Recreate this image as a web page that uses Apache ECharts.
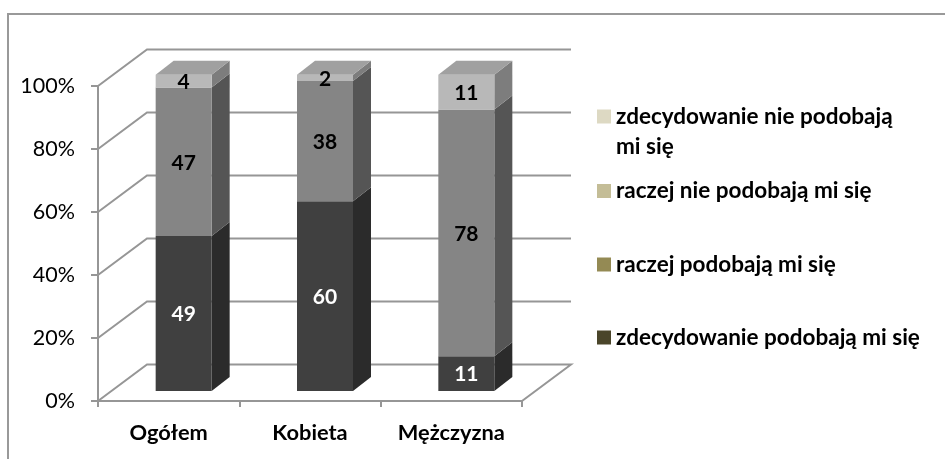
<!DOCTYPE html>
<html style="height: 100%">
<head>
<meta charset="utf-8">
<script src="https://cdn.jsdelivr.net/npm/echarts@6/dist/echarts.min.js"></script>
</head>
<body style="height: 100%; margin: 0; background: #fff">
<div id="container" style="width: 945px; height: 459px"></div>
<script>
// dane
var categories = ['Ogółem', 'Kobieta', 'Mężczyzna'];
var seriesNames = ['zdecydowanie podobają mi się', 'raczej podobają mi się', 'raczej nie podobają mi się', 'zdecydowanie nie podobają mi się'];
var strongYes = [49, 60, 11];
var ratherYes = [47, 38, 78];
var ratherNo = [4, 2, 11];
var strongNo = [0, 0, 0];
var yTicks = [0, 20, 40, 60, 80, 100];

// kolory
var legendColors = ['#4a452a', '#948a54', '#c4bd97', '#ddd9c3'];
var frontColors = ['#404040', '#858585', '#b8b8b8', '#dadada'];
var sideColors = ['#2b2b2b', '#555555', '#7d7d7d', '#909090'];
var labelColors = ['#ffffff', '#000000', '#000000', '#000000'];
var topColor = '#a0a0a0';
var gridColor = '#969696';
var FONT = 'Lato, "Noto Sans", sans-serif';

var depthX = 49, depthY = 36.5;      // glebokosc "sciany"
var barW = 56, barDX = 18, barDY = 14, barShift = 15, barLift = 10, barStretch = 0.012;

var values = [strongYes, ratherYes, ratherNo, strongNo];

function segmentData(s) {
	var res = [];
	for (var i = 0; i < categories.length; i++) {
		var base = 0;
		for (var k = 0; k < s; k++) base += values[k][i];
		res.push([i, base, base + values[s][i], values[s][i]]);
	}
	return res;
}

function renderSegment(s) {
	return function (params, api) {
		if (api.value(3) === 0) return null;
		var c = api.coord([api.value(0), api.value(1)]);
		var t = api.coord([api.value(0), api.value(2)]);
		var x0 = c[0] + barShift - barW / 2, x1 = x0 + barW;
		var yb = c[1] - barLift - api.value(1) * barStretch, yt = t[1] - barLift - api.value(2) * barStretch;
		var isTop = true;
		for (var k = s + 1; k < values.length; k++) {
			if (values[k][api.value(0)] > 0) isTop = false;
		}
		var children = [
			{type: 'polygon', shape: {points: [[x1, yb], [x1 + barDX, yb - barDY], [x1 + barDX, yt - barDY], [x1, yt]]}, style: {fill: sideColors[s]}},
			{type: 'rect', shape: {x: x0, y: yt, width: barW, height: yb - yt}, style: {fill: frontColors[s]}},
			{type: 'text', x: (x0 + x1) / 2, y: (yb + yt) / 2 + 1, style: {text: String(api.value(3)), fill: labelColors[s], font: 'bold 21px ' + FONT, align: 'center', verticalAlign: 'middle'}, z2: 5}
		];
		if (isTop) {
			children.push({type: 'polygon', shape: {points: [[x0, yt], [x0 + barDX, yt - barDY], [x1 + barDX, yt - barDY], [x1, yt]]}, style: {fill: topColor}});
		}
		return {type: 'group', children: children};
	};
}

function renderWalls(params, api) {
	var v = api.value(1);
	var y = api.coord([0, v])[1];
	var left = params.coordSys.x, right = params.coordSys.x + params.coordSys.width;
	var pts = [[left, y], [left + depthX, y - depthY], [right + depthX, y - depthY]];
	if (v === 0) pts.push([right, y]);
	return {type: 'polyline', shape: {points: pts}, style: {stroke: gridColor, lineWidth: 2, fill: null}};
}

var series = [{
	type: 'custom',
	silent: true,
	renderItem: renderWalls,
	data: yTicks.map(function (v) { return [0, v]; }),
	encode: {x: 0, y: 1},
	z: 1
}];
for (var s = 0; s < seriesNames.length; s++) {
	series.push({
		name: seriesNames[s],
		type: 'custom',
		renderItem: renderSegment(s),
		itemStyle: {color: legendColors[s]},
		encode: {x: 0, y: [1, 2]},
		data: segmentData(s),
		z: 2 + s
	});
}

function legendItem(s, top) {
	var twoLines = s === 3;
	return {
		left: 597,
		top: top,
		itemWidth: 14,
		itemHeight: twoLines ? 60 : 14,
		selectedMode: false,
		// dla dwoch linii kwadrat stoi przy pierwszej linii
		icon: twoLines ? 'path://M0 8H14V22H0Z M0 0L0 0 M14 60L14 60' : 'rect',
		padding: 0,
		data: [{name: seriesNames[s], itemStyle: {color: legendColors[s]}}],
		formatter: function (name) {
			return twoLines ? 'zdecydowanie nie podobają\nmi się' : name;
		},
		textStyle: {fontFamily: FONT, fontWeight: 'bold', fontSize: 22.5, color: '#000', lineHeight: 30, padding: [3, 0, 0, 0]}
	};
}

var myChart = echarts.init(document.getElementById('container'));
myChart.setOption({
	animation: false,
	backgroundColor: '#fff',
	grid: {left: 98, top: 86, width: 424, height: 315},
	xAxis: {
		type: 'category',
		data: categories,
		axisLine: {lineStyle: {color: gridColor, width: 2}},
		axisTick: {show: true, length: 6, lineStyle: {color: gridColor, width: 2}},
		axisLabel: {fontFamily: FONT, fontWeight: 'bold', fontSize: 21.8, color: '#000', margin: 21}
	},
	yAxis: {
		type: 'value',
		min: 0,
		max: 100,
		interval: 20,
		splitLine: {show: false},
		axisLine: {show: true, lineStyle: {color: gridColor, width: 2}},
		axisTick: {show: true, length: 7, lineStyle: {color: gridColor, width: 2}},
		axisLabel: {formatter: '{value}%', fontFamily: FONT, fontSize: 21.5, color: '#000', margin: 23, padding: [10, 0, 0, 0]}
	},
	legend: [legendItem(3, 100), legendItem(2, 174.5), legendItem(1, 248), legendItem(0, 321)],
	graphic: [{
		type: 'polyline',
		silent: true,
		shape: {points: [[8, 459], [8, 14], [945, 14]]},
		style: {stroke: '#999999', lineWidth: 2, fill: null}
	}],
	series: series
});
</script>
</body>
</html>
